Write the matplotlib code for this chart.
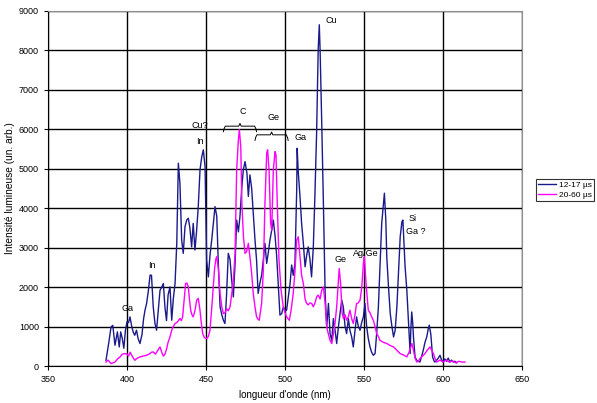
import numpy as np
import matplotlib
matplotlib.use("Agg")
import matplotlib.pyplot as plt

plt.rcParams['font.family'] = ['Liberation Sans', 'DejaVu Sans']

# 12-17 us spectrum (wavelength nm, intensity)
wl_a = [386.7, 388.5, 389.9, 391.0, 392.4, 393.9, 395.1, 396.0, 397.0, 398.0, 399.0, 400.0,
        401.0, 401.9, 403.0, 404.0, 404.9, 406.0, 407.0, 408.2, 409.5, 410.5, 411.4, 412.4,
        413.5, 414.6, 415.5, 416.6, 417.7, 418.7, 419.8, 420.9, 422.0, 423.0, 424.0, 425.0,
        426.0, 427.2, 428.3, 429.3, 430.4, 431.5, 432.5, 433.5, 434.6, 435.6, 436.7, 437.8,
        438.8, 439.8, 440.9, 441.9, 443.0, 444.0, 445.1, 446.2, 447.3, 448.3, 449.4, 450.4,
        451.5, 452.5, 453.6, 454.6, 455.7, 456.8, 457.8, 458.9, 460.0, 461.0, 462.0, 463.0,
        464.1, 465.2, 466.2, 467.3, 468.4, 469.4, 470.5, 471.5, 472.6, 473.6, 474.7, 475.9,
        476.8, 477.8, 478.9, 479.9, 481.0, 482.0, 483.0, 484.1, 485.2, 486.3, 487.3, 488.4,
        489.5, 490.5, 491.6, 492.6, 493.7, 494.7, 495.8, 496.8, 497.9, 499.0, 500.0, 501.0,
        502.1, 503.2, 504.2, 505.2, 506.3, 507.4, 507.7, 508.3, 509.5, 510.5, 511.6, 512.7,
        513.7, 514.7, 515.8, 516.8, 517.9, 518.9, 520.0, 521.0, 521.7, 522.2, 523.2, 524.3,
        525.4, 526.4, 527.5, 528.5, 529.6, 530.6, 531.7, 532.7, 533.8, 534.8, 535.9, 536.9,
        538.0, 539.0, 540.1, 541.1, 542.2, 543.2, 544.3, 545.3, 546.4, 547.5, 548.5, 549.6,
        550.6, 551.7, 552.7, 553.8, 554.8, 555.9, 557.0, 558.0, 559.1, 560.1, 561.2, 562.3,
        562.9, 563.8, 564.4, 565.5, 566.6, 567.7, 568.7, 569.7, 570.8, 571.8, 572.9, 574.0,
        574.6, 575.4, 576.0, 577.1, 578.2, 579.2, 579.6, 580.2, 580.8, 581.3, 582.3, 583.4,
        584.4, 585.4, 586.5, 587.5, 588.6, 589.7, 590.7, 591.3, 592.3, 593.4, 594.4, 594.9,
        596.0, 597.0, 598.1, 599.1, 600.2, 601.2, 602.3, 603.3, 604.4, 605.4, 606.5, 607.5,
        608.7]
int_a = [145, 600, 990, 1030, 525, 865, 483, 865, 700, 450, 900, 1120,
         1100, 1245, 1000, 850, 780, 907, 700, 570, 800, 1200, 1415, 1585,
         1900, 2305, 2300, 1500, 1077, 907, 1400, 1920, 2000, 2090, 1500, 1150,
         1800, 2005, 1160, 1700, 2090, 3110, 5140, 4630, 3190, 2855, 3530, 3700,
         3745, 3500, 3020, 3615, 2940, 3400, 4040, 4970, 5300, 5480, 5055, 2685,
         2260, 2800, 3190, 3600, 4040, 3800, 2600, 1500, 1300, 1160, 1077, 1800,
         2855, 2700, 2200, 1750, 2600, 3700, 3400, 3800, 4500, 4970, 5180, 4890,
         4300, 4845, 4500, 3870, 3200, 2685, 1840, 2100, 2300, 2700, 3110, 2600,
         2900, 3200, 3445, 3700, 3300, 2800, 2005, 1290, 1330, 1500, 1400, 1415,
         1750, 2090, 2560, 2300, 2600, 4460, 5520, 4970, 4290, 3615, 3110, 2515,
         2800, 3020, 2700, 2260, 3000, 4290, 5900, 8020, 8650, 8020, 6240, 4120,
         1840, 990, 1585, 822, 650, 1200, 900, 570, 1000, 1330, 1670, 1500,
         1000, 822, 1200, 900, 737, 483, 900, 1245, 1000, 907, 1100, 1245,
         1585, 990, 700, 483, 350, 272, 315, 822, 1500, 2515, 3615, 4120,
         4380, 3700, 2770, 2005, 1330, 990, 737, 900, 1500, 2345, 3275, 3660,
         3700, 3020, 2515, 1920, 1077, 315, 900, 1370, 1100, 737, 230, 145,
         120, 100, 250, 400, 600, 737, 950, 1035, 800, 230, 120, 100,
         150, 200, 272, 150, 100, 180, 120, 200, 100, 150, 100, 120,
         80]

# 20-60 us spectrum
wl_b = [386.7, 388.0, 389.9, 391.0, 392.4, 394.0, 395.6, 397.0, 398.7, 400.0, 401.0, 402.0,
        403.0, 404.0, 405.0, 406.5, 408.2, 410.0, 412.4, 414.0, 415.5, 416.6, 418.0, 419.5,
        420.9, 422.0, 423.0, 424.0, 425.1, 426.0, 427.2, 428.3, 429.3, 430.4, 431.5, 432.5,
        433.5, 434.4, 435.2, 436.3, 437.1, 438.0, 438.8, 439.5, 440.3, 441.1, 441.9, 443.0,
        444.1, 445.1, 446.2, 447.0, 447.9, 449.0, 450.4, 451.5, 452.5, 453.5, 454.6, 455.5,
        456.3, 456.8, 457.8, 458.9, 460.0, 461.0, 462.0, 463.0, 464.1, 465.2, 466.2, 467.3,
        468.4, 469.4, 470.5, 471.1, 472.0, 472.7, 473.7, 474.7, 475.7, 476.8, 477.8, 478.9,
        479.9, 481.0, 482.0, 483.0, 483.7, 485.2, 486.3, 487.3, 488.4, 489.0, 489.9, 490.9,
        491.6, 492.6, 493.7, 494.3, 495.1, 496.2, 497.5, 498.9, 500.0, 501.0, 502.7, 503.8,
        505.2, 506.3, 507.4, 508.4, 509.5, 510.5, 511.6, 512.7, 513.7, 514.7, 515.8, 516.9,
        517.9, 519.0, 520.0, 521.0, 522.2, 523.2, 524.3, 525.4, 526.4, 527.5, 528.5, 529.6,
        530.6, 531.7, 532.7, 533.5, 534.3, 535.2, 536.2, 537.0, 538.0, 539.0, 540.1, 541.1,
        542.2, 543.2, 544.3, 545.3, 546.4, 547.5, 548.6, 549.6, 550.2, 551.3, 552.7, 553.8,
        554.8, 555.9, 557.0, 558.0, 559.1, 560.1, 562.3, 564.4, 566.6, 568.7, 570.8, 572.9,
        575.0, 577.1, 578.5, 580.3, 581.3, 582.3, 583.4, 584.4, 585.4, 587.0, 588.6, 590.0,
        591.8, 592.8, 593.9, 595.0, 596.0, 598.0, 600.0, 602.0, 604.0, 606.0, 608.0, 610.0,
        611.8, 613.9]
int_b = [100, 150, 60, 80, 100, 180, 230, 300, 315, 300, 250, 350,
         272, 200, 145, 200, 230, 250, 272, 300, 350, 357, 300, 400,
         483, 350, 250, 300, 440, 600, 737, 907, 1000, 1077, 1100, 1150,
         1205, 1150, 1245, 1750, 2090, 2100, 2005, 1700, 1415, 1300, 1245, 1400,
         1670, 1715, 1415, 1100, 822, 720, 695, 750, 907, 1400, 2005, 2500,
         2725, 2770, 2470, 1840, 1500, 1330, 1350, 1450, 1400, 1500, 1800, 2175,
         2855, 4970, 5735, 5990, 5565, 4120, 3275, 2855, 2900, 3110, 2770, 2345,
         1840, 1500, 1245, 1180, 1160, 1585, 2430, 4120, 5395, 5480, 4970, 3615,
         3445, 4970, 5435, 5350, 4120, 2685, 1920, 1500, 1350, 1245, 1160, 1400,
         1840, 2400, 3190, 3275, 2770, 2300, 2090, 1700, 1585, 1550, 1600, 1585,
         1500, 1600, 1750, 1800, 1700, 1920, 2005, 1585, 990, 800, 650, 570,
         800, 1100, 1500, 2000, 2470, 2090, 1330, 1200, 1300, 1160, 1250, 1415,
         1200, 1077, 1300, 1585, 1600, 1670, 2005, 2600, 2770, 2090, 1415, 1350,
         1250, 1160, 1000, 822, 750, 650, 600, 570, 520, 483, 400, 315,
         280, 230, 350, 570, 400, 200, 100, 120, 187, 250, 315, 400,
         483, 400, 315, 180, 100, 150, 100, 150, 100, 130, 80, 120,
         100, 100]

# line identifications: (text, wavelength, intensity)
labels = [("Ga", 400, 1450), ("In", 416, 2550), ("Cu?", 446, 6100), ("In", 446, 5700),
          ("C", 473, 6450), ("Ge", 493, 6300), ("Ga", 510, 5800), ("Cu", 529, 8750),
          ("Ge", 535, 2700), ("Ag/Ge", 551, 2850), ("Si", 581, 3750), ("Ga ?", 583, 3400)]
braces = [(461, 482, 6080), (481, 502, 5860)]

fig = plt.figure(figsize=(5.97, 4.03), dpi=100)
ax = fig.add_axes([0.0804, 0.0918, 0.794, 0.881])

ax.plot(wl_a, int_a, color='#1a1a8c', lw=1.0, label='12-17 µs')
ax.plot(wl_b, int_b, color='#ff00ff', lw=1.0, label='20-60 µs')

ax.set_xlim(350, 650)
ax.set_ylim(0, 9000)
ax.set_xticks(np.arange(350, 651, 50))
ax.set_yticks(np.arange(0, 9001, 1000))
ax.grid(True, color='black', lw=1.0)
ax.set_axisbelow(True)
ax.tick_params(labelsize=6.5, length=3, width=0.8, direction='out')
for s in ['top', 'right']:
    ax.spines[s].set_color('#909090')
ax.set_xlabel("longueur d'onde (nm)", fontsize=7)
ax.set_ylabel("Intensité lumineuse (un. arb.)", fontsize=7.3, labelpad=3)

for t, x, y in labels:
    ax.text(x, y, t, fontsize=6.5, ha='center', va='center')

# curly braces over groups of lines
for x0, x1, y in braces:
    xm = (x0 + x1) / 2
    d = 70
    ax.plot([x0, x0 + 0.4, x0 + 1.2, xm - 0.8, xm, xm + 0.8, x1 - 1.2, x1 - 0.4, x1],
            [y - 2 * d, y - d, y, y, y + d, y, y, y - d, y - 2 * d],
            color='black', lw=0.7)

leg = fig.legend(loc='upper left', bbox_to_anchor=(0.897, 0.556), fontsize=6,
                 frameon=True, fancybox=False, edgecolor='black', handlelength=2.2,
                 borderpad=0.3, labelspacing=0.2, handletextpad=0.3, borderaxespad=0)
leg.get_frame().set_linewidth(0.8)

fig.savefig('out.png', dpi=100)
